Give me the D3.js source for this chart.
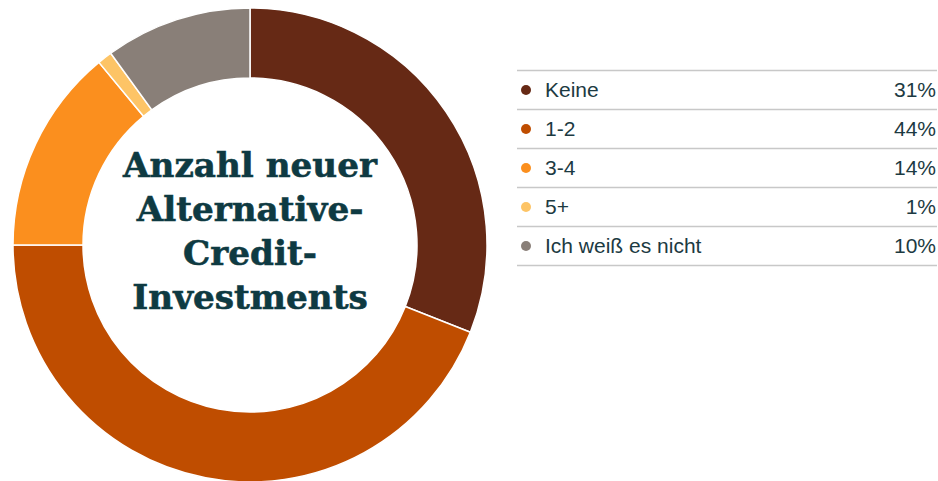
<!DOCTYPE html>
<html>
<head>
<meta charset="utf-8">
<script src="https://cdn.jsdelivr.net/npm/d3@7"></script>
<style>
  html, body { margin: 0; padding: 0; background: #fff; }
  svg { display: block; }
</style>
</head>
<body>
<svg id="chart" width="938" height="481"></svg>
<script>
// Survey answers: number of new alternative-credit investments
const categories = ["Keine", "1-2", "3-4", "5+", "Ich weiß es nicht"];
const shares = [31, 44, 14, 1, 10];
const colors = ["#662915", "#bf4d00", "#fb8f1e", "#fdc466", "#897f78"];
const titleLines = ["Anzahl neuer", "Alternative-", "Credit-", "Investments"];

const svg = d3.select("#chart");
const cx = 250, cy = 245, outerR = 237, innerR = 167;

const data = categories.map((c, i) => ({ label: c, value: shares[i], color: colors[i] }));

const pie = d3.pie().value(d => d.value).sort(null);
const arc = d3.arc().innerRadius(innerR).outerRadius(outerR);

const donut = svg.append("g").attr("transform", `translate(${cx},${cy})`);
donut.selectAll("path")
  .data(pie(data))
  .join("path")
  .attr("d", arc)
  .attr("fill", d => d.data.color)
  .attr("stroke", "#fff")
  .attr("stroke-width", 1.5);

// Centre title
const title = donut.append("text")
  .attr("text-anchor", "middle")
  .attr("fill", "#0e3a42")
  .attr("stroke", "#0e3a42")
  .attr("stroke-width", 0.6)
  .style("font-family", "'DejaVu Serif', serif")
  .style("font-weight", "bold")
  .style("font-size", "30px");
const lineH = 44;
title.selectAll("tspan")
  .data(titleLines)
  .join("tspan")
  .attr("x", 0)
  .attr("y", (d, i) => 177 - cy + i * lineH)
  .text(d => d);
// fit the first line to the ring's inner width
const w = title.select("tspan").node().getComputedTextLength();
title.style("font-size", (30 * 254 / w) + "px");

// Legend table
const legendX0 = 517, legendX1 = 937, rowTop = 70, rowH = 39;
const rowY = d3.scaleBand().domain(categories).range([rowTop, rowTop + rowH * categories.length]);

const legend = svg.append("g");
legend.selectAll("line")
  .data(d3.range(categories.length + 1))
  .join("line")
  .attr("x1", legendX0).attr("x2", legendX1)
  .attr("y1", i => rowTop + i * rowH + 0.5)
  .attr("y2", i => rowTop + i * rowH + 0.5)
  .attr("stroke", "#c8c8c8")
  .attr("stroke-width", 1.5);

const rows = legend.selectAll("g.row")
  .data(data)
  .join("g")
  .attr("class", "row")
  .attr("transform", d => `translate(0,${rowY(d.label) + rowH / 2})`);

rows.append("circle")
  .attr("cx", 526).attr("cy", 0.5).attr("r", 5)
  .attr("fill", d => d.color);

rows.append("text")
  .attr("x", 545).attr("y", 7.5)
  .attr("fill", "#1c3a42")
  .style("font-family", "'Liberation Sans', Arial, sans-serif")
  .style("font-size", "21px")
  .text(d => d.label);

rows.append("text")
  .attr("x", 936).attr("y", 7.5)
  .attr("text-anchor", "end")
  .attr("fill", "#1c3a42")
  .style("font-family", "'Liberation Sans', Arial, sans-serif")
  .style("font-size", "21px")
  .text(d => d.value + "%");
</script>
</body>
</html>
